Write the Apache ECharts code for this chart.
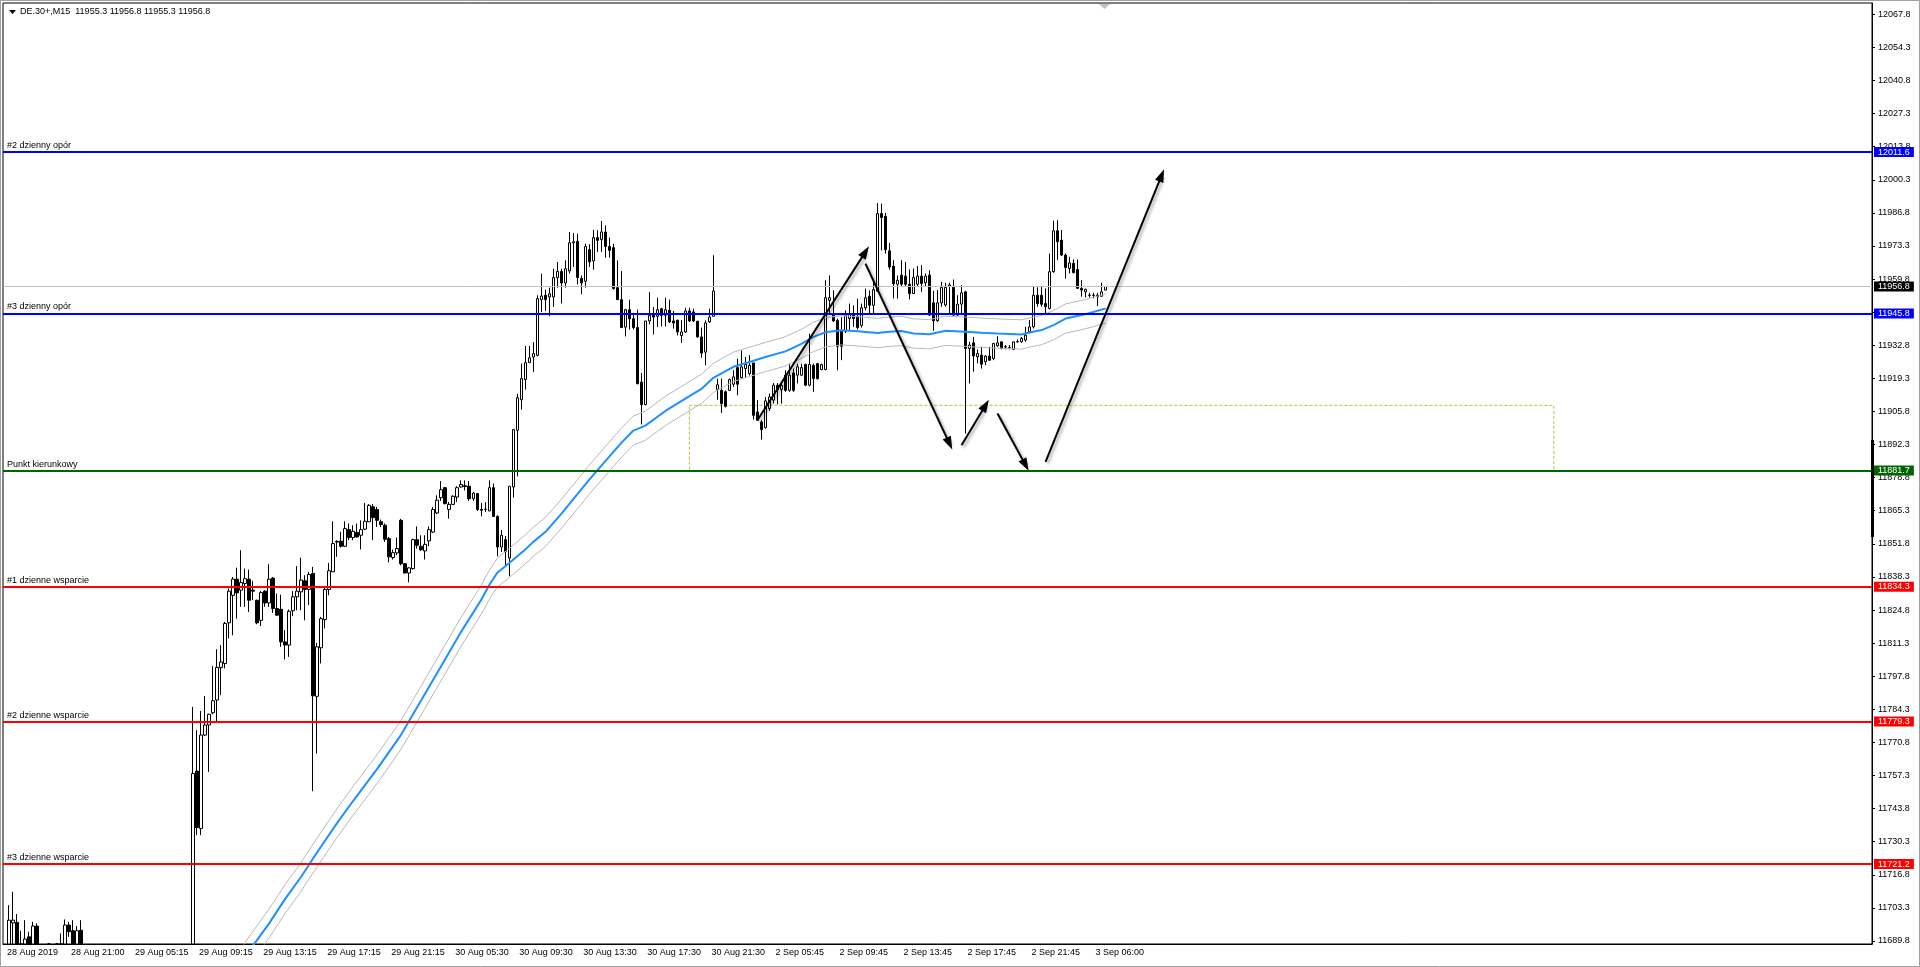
<!DOCTYPE html>
<html><head><meta charset="utf-8">
<script src="https://cdn.jsdelivr.net/npm/echarts@6/dist/echarts.min.js"></script>
<style>html,body{margin:0;padding:0;background:#fff}#c{width:1920px;height:967px}</style>
</head><body><div id="c"></div>
<script>
const chartTitle = 'DE.30+,M15  11955.3 11956.8 11955.3 11956.8';
const xTickLabels = ['28 Aug 2019','28 Aug 21:00','29 Aug 05:15','29 Aug 09:15','29 Aug 13:15','29 Aug 17:15','29 Aug 21:15','30 Aug 05:30','30 Aug 09:30','30 Aug 13:30','30 Aug 17:30','30 Aug 21:30','2 Sep 05:45','2 Sep 09:45','2 Sep 13:45','2 Sep 17:45','2 Sep 21:45','3 Sep 06:00'];
const yTicks = [11689.8,11703.3,11716.8,11730.3,11743.8,11757.3,11770.8,11784.3,11797.8,11811.3,11824.8,11838.3,11851.8,11865.3,11878.8,11892.3,11905.8,11919.3,11932.8,11946.3,11959.8,11973.3,11986.8,12000.3,12013.8,12027.3,12040.8,12054.3,12067.8];
// M15 candles: [open, close, low, high]
const candles = [
[11684,11686,11680,11687],[11686,11698.3,11682,11704.4],[11697.2,11698.3,11686,11709.9],[11697.4,11686,11683,11700.8],[11685,11684,11680,11694],
[11686,11690.6,11684,11698.3],[11691.5,11686,11683,11693.6],[11686,11695.9,11684,11697.6],[11695.9,11686,11682,11697],[11686,11684,11680,11687.5],
[11684,11683,11679,11686],[11683,11685,11680,11689],[11685,11684,11681,11687],[11684,11686,11682,11689],[11686,11687,11683,11692.9],
[11687,11696.3,11685,11698.6],[11696.3,11693.6,11691.5,11697.6],[11694,11686,11684,11698.3],[11686,11694,11684,11695.9],[11694.2,11686,11683,11698.3],
[11686,11684,11681,11687],[11684,11682,11679,11686],[11682,11680,11677,11684],[11680,11681,11678,11683],[11681,11679,11676,11682],
[11679,11678,11675,11681],[11678,11680,11676,11682],[11680,11679,11677,11681],[11679,11677,11675,11680],[11677,11678,11675,11679],
[11678,11676,11674,11679],[11676,11677,11674,11678],[11677,11675,11673,11678],[11675,11676,11673,11677],[11676,11678,11674,11679],
[11678,11677,11675,11680],[11677,11679,11676,11681],[11679,11678,11676,11680],[11678,11680,11677,11682],[11680,11681,11678,11683],
[11681,11679,11677,11682],[11679,11680,11677,11682],[11680,11682,11678,11684],[11682,11681,11679,11683],[11681,11683,11680,11685],
[11683,11682,11680,11684],[11682,11684,11680,11686],[11684,11758.1,11680,11785.3],[11759.1,11736.1,11733,11775.8],[11735.7,11773.8,11733,11783.6],
[11773.8,11777.9,11773.4,11789.7],[11777.9,11782.3,11758.8,11782.5],[11782.9,11787.8,11782.3,11801.9],[11788.1,11801.4,11779.2,11808.8],[11801.3,11803.6,11790.1,11810.5],
[11803,11819.3,11801,11820],[11819.6,11832.5,11813.2,11833.6],[11830.8,11837.4,11814.5,11838.3],[11837.4,11831.8,11821.3,11842.1],[11832.9,11836,11826.1,11849.2],
[11835.6,11837.6,11826.1,11841.7],[11837.4,11828.8,11824,11841.3],[11832.9,11832.5,11828.8,11836.7],[11828.8,11819.6,11819,11829],[11820.6,11831.9,11818.3,11832.5],
[11832.5,11827.7,11826.1,11832.9],[11827.7,11837.4,11826.1,11843.5],[11837.8,11825.4,11823.6,11838.3],[11825.4,11822.7,11822.5,11831.5],[11825.1,11811.8,11809.8,11831.1],
[11811.8,11810.5,11804.6,11816.6],[11810.5,11824.3,11805.7,11825],[11824.5,11830.2,11822.3,11832.5],[11830.2,11832.5,11824.7,11842.7],[11832.2,11837,11824.7,11846.2],
[11836.7,11833.2,11820.6,11839],[11833.2,11839.3,11826.8,11840.4],[11839.7,11789.8,11750.9,11842.4],[11789.6,11809.8,11766.3,11811.4],[11809.4,11821.3,11803,11822],
[11820.9,11833.2,11817.3,11834.2],[11833.2,11840.8,11830.8,11844],[11840.4,11851.9,11840.4,11861],[11852.5,11852.8,11846.5,11853.3],[11852.9,11850.8,11850.3,11856.7],
[11850.8,11858,11850.5,11861],[11857.6,11854.4,11853.3,11860.1],[11854.4,11856.9,11853.3,11859.4],[11856.4,11854.6,11854.4,11860.1],[11855.3,11857.6,11849.5,11861.4],
[11857.8,11861,11857.4,11868.5],[11860.8,11867.5,11860.8,11868],[11866.9,11862.5,11853.3,11868],[11865.8,11861.4,11858.7,11866.9],[11860.8,11859.7,11858.7,11861.7],
[11859.4,11853.7,11852.6,11860.1],[11853.9,11846.5,11844.2,11854.6],[11846.2,11848.2,11845.4,11849.5],[11848.1,11849.9,11847.2,11854.4],[11861.4,11843.7,11843,11862],
[11843.7,11839.9,11839.7,11844],[11839.9,11842,11836.1,11842.2],[11841.7,11853.5,11841.3,11853.9],[11853.5,11851.2,11849.8,11858.9],[11850.8,11849.4,11848.9,11855.3],
[11848.9,11851.6,11845.4,11855.3],[11853,11857.6,11850.8,11858.9],[11856.6,11865.8,11856.2,11866.8],[11864.4,11869.6,11863.9,11871.6],[11870.6,11873.9,11869.3,11877.4],
[11874.7,11868.2,11867.9,11875],[11865.8,11867.9,11862.1,11868.9],[11867.9,11871.2,11867.7,11871.6],[11870.9,11874.7,11868.9,11875.3],[11875,11876,11874.7,11877.7],
[11875.5,11875.2,11873.6,11877.7],[11875.3,11870.2,11869.3,11877.4],[11870.2,11872.5,11869.3,11873],[11872.3,11865.8,11865.2,11872.5],[11865.9,11865.5,11863,11868.5],
[11865.8,11865.9,11864.8,11868.8],[11865.2,11874.7,11865.2,11877.7],[11874.7,11863,11862.8,11876.4],[11863,11850.5,11846.7,11863.4],[11850.5,11855.3,11848.5,11857.4],
[11853.5,11848.7,11842.4,11855],[11846,11875.3,11838.6,11875.3],[11875,11898.4,11870.6,11898.6],[11898.1,11911.4,11879.3,11913],[11910.6,11919.2,11906.5,11925.3],
[11918.8,11925.7,11914.7,11932.5],[11925.7,11927.7,11925.6,11932.5],[11928,11929.4,11921.9,11934.1],[11928.7,11951.8,11928.3,11953.2],[11951.4,11952.9,11946.4,11962],
[11953.2,11951.4,11946.8,11955.5],[11952.5,11953.8,11944.6,11956.3],[11952.5,11960.4,11948.4,11964],[11960.4,11962.9,11956.3,11966.8],[11962.9,11958.2,11949.8,11964],
[11958.2,11964,11956.3,11967.4],[11963.1,11974.6,11962,11979],[11974.6,11975,11964.7,11978.6],[11975.2,11960.4,11957.6,11978.3],[11960.1,11958.2,11953.6,11961.3],
[11958.9,11973.1,11956.3,11974.2],[11971.8,11966.8,11964.7,11974],[11967.2,11976.7,11963.6,11979.9],[11976.7,11975.6,11970.8,11979.7],[11975.9,11979,11970.8,11983.5],
[11979,11973.1,11968.5,11981.7],[11973.1,11971.5,11968.5,11976.7],[11972.6,11955.9,11955.5,11974.2],[11956.3,11951.4,11951.4,11967.4],[11951.4,11940,11940,11963.1],
[11940.2,11947.3,11936.4,11947.7],[11947.3,11943.6,11939.2,11951.4],[11943.6,11940,11939.2,11946],[11940,11917.1,11916.9,11947.3],[11917.8,11908.6,11900.5,11921.5],
[11908.6,11942.7,11908.3,11942.7],[11942.7,11945,11941.3,11954.5],[11945,11944.3,11937.2,11948.4],[11944.6,11947.3,11940.2,11952.2],[11947.7,11945,11940.5,11948.1],
[11945,11947.3,11940.5,11952.2],[11947,11942.3,11941.9,11951.4],[11942.7,11941.9,11939.6,11946.8],[11943,11938.2,11936.8,11943.2],[11936.8,11938.2,11933.7,11943],
[11938.2,11946.8,11937.8,11948.1],[11946.8,11942.7,11942.3,11948.1],[11946.4,11942.7,11942.3,11947.7],[11942.6,11936.2,11935.9,11942.7],[11936.2,11929.6,11927.7,11940],
[11930,11941.9,11924.6,11942.9],[11942.3,11944.3,11941.9,11947.7],[11944.6,11954.9,11944.6,11969.5],[11914.7,11916.7,11910.6,11919.2],[11914.4,11909,11905.2,11919.2],
[11913.8,11907.9,11907.4,11914.4],[11914.4,11918.8,11914.4,11919.2],[11916.9,11919.9,11915.8,11922.6],[11923.7,11916.9,11912.4,11927.3],[11919.6,11924,11919.2,11930.7],
[11923.3,11925,11919.6,11928],[11921.2,11924.6,11920.5,11928.7],[11925.6,11904.2,11902.5,11925.6],[11905.6,11902.2,11902.2,11910.4],[11901.5,11898.4,11894.3,11902.2],
[11899.2,11910.1,11898.8,11911.7],[11907,11911.7,11906,11913.1],[11910.4,11916.5,11909,11917.4],[11916.5,11914.7,11908.7,11917.4],[11914.7,11916.4,11909,11917.4],
[11920.6,11914.4,11913.8,11922.6],[11914.4,11920.6,11913.8,11925.3],[11921.5,11914.4,11913.8,11923.3],[11920.6,11924,11917.2,11925.3],[11920.6,11923.7,11920.2,11925.3],
[11925,11916.5,11916.1,11925.3],[11916.5,11925,11916.1,11937.5],[11924.6,11919.2,11913.8,11925.3],[11925.3,11919.2,11918.8,11925.6],[11922.9,11924.9,11922.6,11925.3],
[11922.9,11952.2,11922.6,11959.3],[11951.1,11952.2,11945.7,11961.3],[11945.7,11942.7,11942.3,11955.2],[11943,11932.4,11922.6,11943.7],[11938.6,11932.4,11926.7,11944.3],
[11938.6,11945,11937.8,11947],[11943.7,11945.4,11938.9,11949.8],[11945.4,11943.7,11940.3,11949.1],[11944.6,11940,11939.2,11951.8],[11940.9,11948.1,11940,11949.8],
[11948.1,11952.2,11947,11955.9],[11952.8,11949.1,11945.4,11955.2],[11949.1,11955.5,11945.4,11958.6],[11954.9,11986.5,11954.5,11990.8],[11986.5,11984.9,11971.5,11990.6],
[11985.4,11971.8,11970.2,11986.8],[11971.3,11964.7,11963.6,11974.5],[11965,11957.9,11951.9,11967.5],[11957.7,11959.3,11951.8,11961.3],[11961.4,11957.7,11956.6,11967.5],
[11961,11957.7,11956.9,11966.8],[11957.7,11953.9,11951.5,11963.7],[11953.9,11960.4,11953.7,11964.1],[11957.7,11961,11956.6,11965.1],[11961,11958,11954.6,11965.5],
[11958.3,11961,11956.9,11962.1],[11961.4,11945.1,11944.7,11963.4],[11950.1,11942.8,11938.7,11955],[11942.8,11950.1,11942.4,11955.3],[11950.1,11956.4,11948.5,11958.7],
[11949.2,11956.4,11948.5,11958.3],[11956.9,11957.4,11945.8,11958.3],[11956.4,11945.1,11944.4,11959.6],[11945.1,11949.6,11944.7,11953.2],[11949.6,11954.2,11945.1,11957.3],
[11954.6,11931.5,11896.8,11955],[11931.5,11932.9,11917.2,11934.2],[11933.8,11928.4,11922,11936.2],[11928.1,11929.4,11925.4,11931.1],[11928.8,11925.1,11923.3,11932.2],
[11926.1,11928.4,11924.7,11928.8],[11928.4,11926.7,11926.5,11932.2],[11927.4,11933.5,11926.7,11933.8],[11932.6,11933.8,11932.2,11936.5],[11934.2,11931.5,11931.1,11934.2],
[11932.2,11932.1,11931.1,11932.9],[11931.9,11931.8,11931.1,11932.9],[11931.1,11934.2,11930.8,11934.2],[11934.2,11934.3,11933.8,11935.2],[11934.2,11935.6,11933.8,11936.2],
[11934.9,11936.9,11934.2,11940.3],[11938.3,11940.3,11937.6,11943.1],[11940.3,11953.2,11939.6,11956.9],[11953.2,11949.8,11948.5,11956.4],[11953.2,11949.5,11948.5,11956.7],
[11949.8,11948.5,11945.8,11956],[11947.8,11962.8,11947.4,11970.2],[11962.8,11979.5,11962.4,11983.6],[11979.5,11975,11967.5,11983.8],[11975.7,11969.6,11969.2,11979.8],
[11969.6,11964.5,11960,11970.2],[11964.1,11966.4,11962.1,11968.9],[11966.2,11962.4,11962.1,11967.8],[11963.7,11956,11956,11967.8],[11956,11955.3,11952.6,11959.4],
[11954.6,11955.6,11952.3,11955.9],[11953.2,11953.3,11952.3,11954.2],[11953.2,11953.1,11951.9,11954.2],[11953.2,11952.6,11948.8,11954.2],[11952.8,11954.6,11952.6,11958.3],
[11955.3,11956.8,11955.3,11956.8]
];
// moving average (blue) read at bar indexes
const maIdx = [56,62,66,70,74,78,83,87,93,99,104,109,114,119,121,123,126,130,132,135,139,142,146,150,154,157,160,165,170,174,177,182,186,190,195,199,202,205,209,213,218,221,224,227,231,235,240,244,248,254,256,259,262,265,269,272,275];
const maVal = [11674,11688,11697,11707,11716,11726,11738,11747,11760,11774,11788,11802,11816,11829,11835,11840,11844,11849.5,11852.6,11856.6,11864,11870,11878,11885.5,11893,11898,11900,11906,11911,11915,11919.5,11924,11926,11928,11930.3,11933.4,11936.2,11938.1,11938.9,11938.5,11937.8,11938.3,11938.6,11937.6,11937.3,11938.7,11938.3,11937.9,11937.6,11937.2,11938,11939,11941,11943.7,11945.1,11946.4,11947.8];
const envelopePct = 0.05;
const levelNames = ['#2 dzienny opór','#3 dzienny opór','Punkt kierunkowy','#1 dzienne wsparcie','#2 dzienne wsparcie','#3 dzienne wsparcie'];
const levelValues = [12011.6,11945.8,11881.7,11834.3,11779.3,11721.2];
const levelColors = ['#0000ff','#0000ff','#006400','#ff0000','#ff0000','#ff0000'];
const bidPrice = 11956.8;
// arrows: [fromBar, fromPrice, toBar, toPrice]
const arrows = [[187.9,11902.2,215,11970.9],[215.4,11966.1,236.25,11892.7],[239.2,11892,245.25,11908.3],[247.5,11905,255.4,11883.9],[259.6,11885.2,289,12002.1]];
const zone = [171,11908.3,387,11881.7];

const totalSlots = 467;
const Y_MIN = 11688.58, Y_MAX = 12072.4;
const FONT = 'Liberation Sans';
const slots = Array.from({length: totalSlots}, (_, i) => String(i));
// candlestick clip only drops whole boxes, so cut the part below the visible range
const candleView = candles.map(c => (c[3] < Y_MIN ? '-' : c.map(v => Math.max(v, Y_MIN))));
const maData = maIdx.map((k, i) => [k, maVal[i]]);
const envUp = maIdx.map((k, i) => [k, maVal[i] * (1 + envelopePct / 100)]);
const envDn = maIdx.map((k, i) => [k, maVal[i] * (1 - envelopePct / 100)]);

const tag = (text, bg) => ({show: true, position: 'end', formatter: text, backgroundColor: bg, color: '#fff', padding: [1, 4, 0, 4], lineHeight: 9, fontSize: 9, fontFamily: FONT, distance: 2});
const levelMarks = [{yAxis: bidPrice, lineStyle: {color: '#c0c0c0', width: 1, type: 'solid'}, label: tag(bidPrice.toFixed(1), '#000')}];
levelValues.forEach((v, i) => {
  levelMarks.push({yAxis: v, lineStyle: {color: levelColors[i], width: 2, type: 'solid'}, label: tag(v.toFixed(1), levelColors[i])});
  levelMarks.push({yAxis: v, lineStyle: {color: levelColors[i], width: 2, type: 'solid'},
    label: {show: true, position: 'insideStartTop', formatter: levelNames[i], color: '#000', fontSize: 9, fontFamily: FONT, distance: [4, 2]}});
});

const arrowMarks = arrows.map(a => [{coord: [a[0], a[1]]}, {coord: [a[2], a[3]]}]);

const chart = echarts.init(document.getElementById('c'), null, {renderer: 'canvas'});
chart.setOption({
  animation: false,
  backgroundColor: '#fff',
  grid: {left: 3, right: 48, top: 3, bottom: 23, show: true, borderColor: '#000', borderWidth: 1, backgroundColor: '#fff'},
  xAxis: {
    type: 'category', data: slots, boundaryGap: true,
    axisLine: {lineStyle: {color: '#000', width: 1}},
    axisTick: {alignWithLabel: true, length: 4, lineStyle: {color: '#000'},
      interval: (i) => i % 16 === 0 && i / 16 < xTickLabels.length},
    axisLabel: {interval: 15, align: 'left', margin: 4, padding: [0, 0, 0, 2], fontSize: 9, fontFamily: FONT, color: '#000',
      formatter: (v, i) => (i % 16 === 0 ? (xTickLabels[i / 16] || '') : '')},
    splitLine: {show: false}
  },
  yAxis: {
    type: 'value', position: 'right', min: Y_MIN, max: Y_MAX, scale: true,
    axisLine: {show: true, lineStyle: {color: '#000', width: 1}},
    axisTick: {show: true, length: 3, lineStyle: {color: '#000'}, customValues: yTicks},
    axisLabel: {show: true, customValues: yTicks, formatter: (v) => v.toFixed(1), fontSize: 9, fontFamily: FONT, color: '#000', margin: 6},
    splitLine: {show: false}
  },
  series: [
    {
      type: 'candlestick', data: candleView, barWidth: 3, clip: true, z: 2,
      itemStyle: {color: '#ffffff', color0: '#000000', borderColor: '#000000', borderColor0: '#000000', borderWidth: 1},
      emphasis: {disabled: true},
      markLine: {silent: true, symbol: ['none', 'none'], animation: false, emphasis: {disabled: true}, data: levelMarks}
    },
    {
      type: 'line', data: envUp, symbol: 'none', z: 3, clip: true,
      lineStyle: {color: '#b8b8b8', width: 1}, emphasis: {disabled: true},
      markArea: {silent: true, itemStyle: {color: 'rgba(0,0,0,0)', borderColor: '#9acd32', borderWidth: 1, borderType: [3, 2]},
        data: [[{coord: [zone[0], zone[1]]}, {coord: [zone[2], zone[3]]}]]}
    },
    {
      type: 'line', data: envDn, symbol: 'none', z: 3, clip: true,
      lineStyle: {color: '#b8b8b8', width: 1}, emphasis: {disabled: true}
    },
    {
      type: 'line', data: maData, symbol: 'none', z: 4, clip: true,
      lineStyle: {color: '#1e90ff', width: 2}, emphasis: {disabled: true},
      markLine: {silent: true, symbol: ['none', 'triangle'], symbolSize: [9, 13], animation: false, emphasis: {disabled: true},
        lineStyle: {color: '#000', width: 2, type: 'solid', shadowColor: 'rgba(0,0,0,0.35)', shadowBlur: 3, shadowOffsetX: 2, shadowOffsetY: 2},
        itemStyle: {color: '#000'},
        label: {show: false}, data: arrowMarks}
    }
  ],
  graphic: [
    {type: 'rect', z: 100, silent: true, shape: {x: 0.5, y: 0.5, width: 1919, height: 966}, style: {fill: 'none', stroke: '#a0a0a0', lineWidth: 1}},
    {type: 'polygon', z: 100, silent: true, shape: {points: [[9, 10], [16, 10], [12.5, 14]]}, style: {fill: '#000'}},
    {type: 'text', z: 100, silent: true, x: 20, y: 7, style: {text: chartTitle, font: '9px "Liberation Sans"', fill: '#000'}},
    {type: 'polygon', z: 100, silent: true, shape: {points: [[1099, 4], [1110, 4], [1104.5, 9]]}, style: {fill: '#c0c0c0'}},
    {type: 'rect', z: 100, silent: true, shape: {x: 1871, y: 440, width: 3, height: 97}, style: {fill: '#000'}}
  ]
});
</script>
</body></html>
